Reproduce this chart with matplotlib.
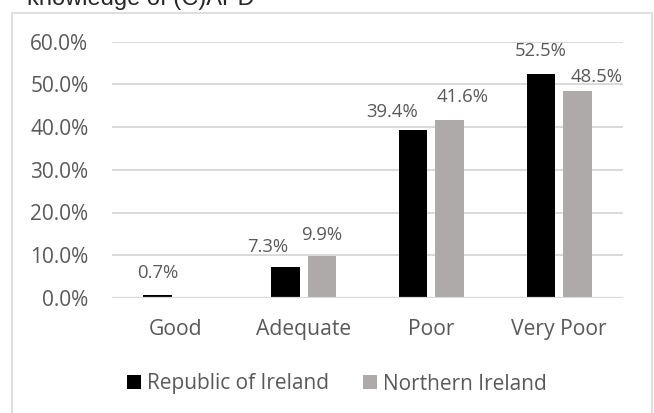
import numpy as np
import matplotlib
matplotlib.use('Agg')
from matplotlib import pyplot as plt
from matplotlib.patches import Patch, Rectangle

categories = ['Good', 'Adequate', 'Poor', 'Very Poor']
series_names = ['Republic of Ireland', 'Northern Ireland']
roi_values = [0.7, 7.3, 39.4, 52.5]
ni_values = [np.nan, 9.9, 41.6, 48.5]
y_ticks = [0, 10, 20, 30, 40, 50, 60]

# label nudges in points (dx, gap above bar), Excel had them moved by hand
roi_label_offsets = [(0, 12), (-13, 11), (-15, 9), (0, 13)]
ni_label_offsets = [(0, 12), (0, 11.5), (9, 13), (14, 6.5)]

text_color = '#595959'
grid_color = '#D9D9D9'
roi_color = '#000000'
ni_color = '#AEAAAA'
font = 'Open Sans'


def label_bars(ax, xs, values, offsets):
    for x, v, (dx, dy) in zip(xs, values, offsets):
        if np.isnan(v):
            continue
        ax.annotate(f'{v:.1f}%', xy=(x, v), xytext=(dx, dy),
                    textcoords='offset points', ha='center', va='baseline',
                    fontsize=13.3, color=text_color, family=font)


def main():
    fig = plt.figure(figsize=(6.54, 4.13), dpi=100)

    # chart border (bottom edge is cut off in the screenshot)
    fig.patches.append(Rectangle((12 / 654, -0.2), 640 / 654, 1.2 - 13 / 413,
                                 transform=fig.transFigure, fill=False,
                                 edgecolor=grid_color, linewidth=1.2))

    fig.text(27 / 654, 1 - 4.5 / 413, 'knowledge of (C)APD', va='baseline',
             ha='left', fontsize=17, family='Liberation Sans', color='#262626')

    ax = fig.add_axes([112 / 654, 1 - 298 / 413, 511 / 654, 256.5 / 413])

    x = np.arange(len(categories))
    width = 0.224
    offset = 0.143
    ax.bar(x - offset, roi_values, width, color=roi_color, zorder=3)
    ax.bar(x + offset, np.nan_to_num(ni_values), width, color=ni_color, zorder=3)

    label_bars(ax, x - offset, roi_values, roi_label_offsets)
    label_bars(ax, x + offset, ni_values, ni_label_offsets)

    ax.set_xlim(-0.5, len(categories) - 0.5)
    ax.set_ylim(0, 60)
    ax.set_yticks(y_ticks)
    ax.set_yticklabels([f'{t:.1f}%' for t in y_ticks])
    ax.set_xticks(x)
    ax.set_xticklabels(categories)

    for t in ax.get_yticklabels():
        t.set_family(font)
        t.set_fontsize(15)
        t.set_color(text_color)
    for t in ax.get_xticklabels():
        t.set_family(font)
        t.set_fontsize(15.2)
        t.set_color(text_color)

    ax.tick_params(axis='y', length=0, pad=17)
    ax.tick_params(axis='x', length=0, pad=15)

    ax.grid(axis='y', color=grid_color, linewidth=1.4, zorder=0)
    ax.set_axisbelow(True)
    for s in ax.spines.values():
        s.set_visible(False)
    ax.axhline(0, color=grid_color, linewidth=1.6, zorder=4)

    handles = [Patch(facecolor=roi_color), Patch(facecolor=ni_color)]
    leg = fig.legend(handles, series_names, loc='center',
                     bbox_to_anchor=(337 / 654, 1 - 384 / 413), ncol=2,
                     frameon=False, handlelength=0.64, handleheight=0.64,
                     handletextpad=0.3, columnspacing=1.65,
                     prop={'family': font, 'size': 15})
    for t in leg.get_texts():
        t.set_color(text_color)

    fig.savefig('out.png', dpi=100)


if __name__ == "__main__":
    main()
